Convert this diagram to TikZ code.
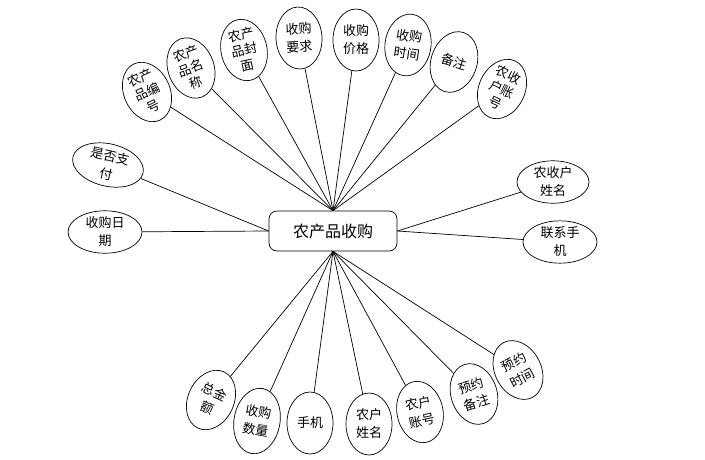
\documentclass[tikz,border=0pt]{standalone}
\usepackage{fontspec}
\setmainfont{Noto Sans CJK SC}
\usetikzlibrary{shapes.geometric}

\begin{document}
\begin{tikzpicture}[x=1pt, y=-1pt, line width=0.7pt, font=\fontsize{13}{18}\selectfont,
    attr node/.style={ellipse,draw,inner sep=0pt,align=center,minimum width=46pt,minimum height=62pt},
    tall node/.style={attr node,font=\fontsize{13}{15.5}\selectfont},
    flat node/.style={ellipse,draw,inner sep=0pt,align=center,minimum width=72pt,minimum height=40pt},
    main node/.style={rectangle,rounded corners=8pt,draw,minimum width=128pt,minimum height=40pt,font=\fontsize{16}{18}\selectfont}]
        \useasboundingbox (0,0) rectangle (705,459);
        \node[main node] (0) at (333,231) {农产品收购};
        % top
        \node[tall node,rotate=25] (1) at (147,92) {农产\\品编\\号};
        \node[tall node,rotate=20] (2) at (191,68) {农产\\品名\\称};
        \node[tall node,rotate=12] (3) at (244,50) {农产\\品封\\面};
        \node[attr node,rotate=3] (4) at (299,38) {收购\\要求};
        \node[attr node] (5) at (356,40) {收购\\价格};
        \node[attr node,rotate=-8] (6) at (408,45) {收购\\时间};
        \node[attr node,rotate=-18] (7) at (454,62) {备注};
        \node[tall node,rotate=-25] (8) at (502,89) {农收\\户账\\号};
        % left and right
        \node[flat node,rotate=-13] (9) at (108,165) {是否支\\付};
        \node[flat node,minimum width=74pt] (10) at (105,232) {收购日\\期};
        \node[flat node] (11) at (553,182) {农收户\\姓名};
        \node[flat node,minimum width=74pt,minimum height=37pt] (12) at (560,242) {联系手\\机};
        % bottom
        \node[attr node,rotate=-25] (13) at (211,400) {总金\\额};
        \node[attr node,rotate=-10,minimum height=66pt] (14) at (257,421) {收购\\数量};
        \node[attr node] (15) at (310,423) {手机};
        \node[attr node] (16) at (369,424) {农户\\姓名};
        \node[attr node,rotate=12] (17) at (420,412) {农户\\账号};
        \node[attr node,rotate=18] (18) at (474,394) {预约\\备注};
        \node[attr node,rotate=28] (19) at (518,370) {预约\\时间};
        \path[-]
        (1) edge (0.north)
        (2) edge (0.north)
        (3) edge (0.north)
        (4) edge (0.north)
        (5) edge (0.north)
        (6) edge (0.north)
        (7) edge (0.north)
        (8) edge (0.north)
        (9) edge (0.west)
        (10) edge (0.west)
        (11) edge (0.east)
        (12) edge (0.east)
        (13) edge (0.south)
        (14) edge (0.south)
        (15) edge (0.south)
        (16) edge (0.south)
        (17) edge (0.south)
        (18) edge (0.south)
        (19) edge (0.south);
    \end{tikzpicture}
\end{document}
